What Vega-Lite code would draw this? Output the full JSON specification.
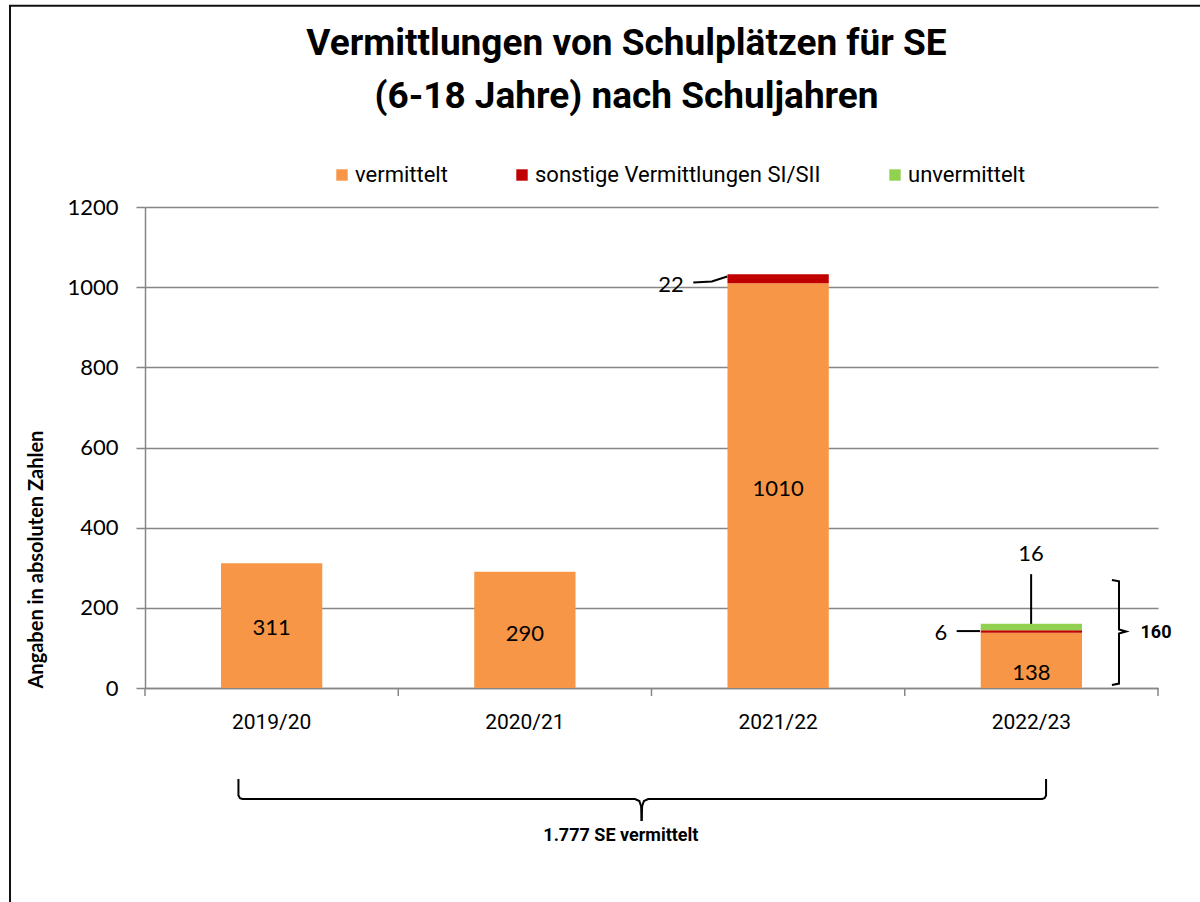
{
  "$schema": "https://vega.github.io/schema/vega-lite/v6.json",
  "width": 1013,
  "height": 481,
  "autosize": {"type": "none"},
  "padding": {"left": 145, "top": 207, "right": 42, "bottom": 214},
  "background": "white",
  "title": {
    "text": ["Vermittlungen von Schulplätzen für SE", "(6-18 Jahre) nach Schuljahren"],
    "font": "Roboto",
    "fontWeight": "bold",
    "fontSize": 37,
    "lineHeight": 53,
    "baseline": "bottom",
    "anchor": "middle",
    "frame": "group",
    "dx": -25,
    "offset": -148,
    "color": "black"
  },
  "datasets": {
    "bars": [
      {"year": "2019/20", "cat": "vermittelt", "value": 311, "rank": 1},
      {"year": "2020/21", "cat": "vermittelt", "value": 290, "rank": 1},
      {"year": "2021/22", "cat": "vermittelt", "value": 1010, "rank": 1},
      {"year": "2021/22", "cat": "sonstige Vermittlungen SI/SII", "value": 22, "rank": 2},
      {"year": "2022/23", "cat": "vermittelt", "value": 138, "rank": 1},
      {"year": "2022/23", "cat": "sonstige Vermittlungen SI/SII", "value": 6, "rank": 2},
      {"year": "2022/23", "cat": "unvermittelt", "value": 16, "rank": 3}
    ],
    "frame": [{"u1": -0.533, "u2": 4.6, "v1": 1702, "v2": -700}],
    "xticks": [{"u": 0}, {"u": 1}, {"u": 2}, {"u": 3}, {"u": 4}],
    "lines": [
      {"id": "b1", "seq": 1, "u": 0.369, "v": -227},
      {"id": "b1", "seq": 2, "u": 0.369, "v": -268},
      {"id": "b1", "seq": 3, "u": 0.375, "v": -275},
      {"id": "b1", "seq": 4, "u": 0.385, "v": -277},
      {"id": "b1", "seq": 5, "u": 1.935, "v": -277},
      {"id": "b1", "seq": 6, "u": 1.952, "v": -282},
      {"id": "b1", "seq": 7, "u": 1.959, "v": -295},
      {"id": "b1", "seq": 8, "u": 1.961, "v": -332},
      {"id": "b2", "seq": 1, "u": 3.558, "v": -227},
      {"id": "b2", "seq": 2, "u": 3.558, "v": -268},
      {"id": "b2", "seq": 3, "u": 3.552, "v": -275},
      {"id": "b2", "seq": 4, "u": 3.542, "v": -277},
      {"id": "b2", "seq": 5, "u": 1.987, "v": -277},
      {"id": "b2", "seq": 6, "u": 1.970, "v": -282},
      {"id": "b2", "seq": 7, "u": 1.963, "v": -295},
      {"id": "b2", "seq": 8, "u": 1.961, "v": -332},
      {"id": "r", "seq": 1, "u": 3.818, "v": 269.5},
      {"id": "r", "seq": 2, "u": 3.846, "v": 266},
      {"id": "r", "seq": 3, "u": 3.846, "v": 146},
      {"id": "r", "seq": 4, "u": 3.874, "v": 141},
      {"id": "r", "seq": 5, "u": 3.846, "v": 136},
      {"id": "r", "seq": 6, "u": 3.846, "v": 11},
      {"id": "r", "seq": 7, "u": 3.818, "v": 7.5},
      {"id": "l16", "seq": 1, "u": 3.499, "v": 284},
      {"id": "l16", "seq": 2, "u": 3.499, "v": 160},
      {"id": "l6", "seq": 1, "u": 3.205, "v": 142},
      {"id": "l6", "seq": 2, "u": 3.297, "v": 142},
      {"id": "l22", "seq": 1, "u": 2.165, "v": 1011.7},
      {"id": "l22", "seq": 2, "u": 2.238, "v": 1014.2},
      {"id": "l22", "seq": 3, "u": 2.299, "v": 1026.6}
    ],
    "numLabels": [
      {"u": 0.5, "v": 150, "label": "311"},
      {"u": 1.5, "v": 135, "label": "290"},
      {"u": 2.5, "v": 497, "label": "1010"},
      {"u": 3.5, "v": 37, "label": "138"},
      {"u": 3.499, "v": 335, "label": "16"},
      {"u": 3.143, "v": 138, "label": "6"},
      {"u": 2.077, "v": 1005, "label": "22"}
    ],
    "notes": [
      {"u": 1.879, "v": -369, "label": "1.777 SE vermittelt"},
      {"u": 3.992, "v": 137, "label": "160"}
    ]
  },
  "layer": [
    {
      "data": {"name": "bars"},
      "mark": {"type": "bar"},
      "encoding": {
        "x": {
          "field": "year", "type": "nominal", "sort": null,
          "scale": {"paddingInner": 0.6, "paddingOuter": 0.3},
          "axis": {
            "title": null, "labelFont": "Roboto", "labelFontSize": 21,
            "labelColor": "black", "labelAngle": 0, "labelPadding": 23, "ticks": false,
            "domainColor": "#868686", "domainWidth": 1.5
          }
        },
        "y": {
          "field": "value", "type": "quantitative", "stack": "zero",
          "scale": {"domain": [0, 1200], "nice": false},
          "axis": {
            "values": [0, 200, 400, 600, 800, 1000, 1200], "format": "d",
            "title": "Angaben in absoluten Zahlen", "titleFont": "Lato", "titleFontSize": 20,
            "titleFontWeight": "bold", "titleColor": "black", "titleAnchor": "start", "titlePadding": 20,
            "labelFont": "Lato", "labelFontSize": 22, "labelColor": "black", "labelPadding": 18,
            "tickSize": 9, "tickColor": "#868686", "tickWidth": 1.5,
            "domainColor": "#868686", "domainWidth": 1.5, "gridColor": "#868686", "gridWidth": 1.5
          }
        },
        "color": {
          "field": "cat", "type": "nominal",
          "scale": {"domain": ["vermittelt", "sonstige Vermittlungen SI/SII", "unvermittelt"], "range": ["#F79646", "#C00000", "#92D050"]},
          "legend": {
            "title": null, "orient": "none", "legendX": 186, "legendY": -43, "direction": "horizontal",
            "symbolType": "square", "symbolSize": 130, "symbolStrokeWidth": 0,
            "labelFont": "Roboto", "labelFontSize": 22, "labelColor": "black", "labelLimit": 0,
            "columnPadding": 63, "labelOffset": 2
          }
        },
        "order": {"field": "rank", "type": "quantitative"}
      }
    },
    {
      "layer": [
        {
          "data": {"name": "frame"},
          "mark": {"type": "rect", "fill": null, "stroke": "#111111", "strokeWidth": 2},
          "encoding": {
            "x": {"field": "u1", "type": "quantitative", "scale": {"domain": [0, 4], "nice": false, "zero": false}, "axis": null},
            "x2": {"field": "u2"},
            "y": {"field": "v1", "type": "quantitative"},
            "y2": {"field": "v2"}
          }
        },
        {
          "data": {"name": "xticks"},
          "mark": {"type": "rule", "color": "#868686", "strokeWidth": 1.5},
          "encoding": {
            "x": {"field": "u", "type": "quantitative", "scale": {"domain": [0, 4], "nice": false, "zero": false}, "axis": null},
            "y": {"datum": 0},
            "y2": {"datum": -20}
          }
        },
        {
          "data": {"name": "lines"},
          "mark": {"type": "line", "color": "black", "strokeWidth": 2},
          "encoding": {
            "x": {"field": "u", "type": "quantitative", "scale": {"domain": [0, 4], "nice": false, "zero": false}, "axis": null},
            "y": {"field": "v", "type": "quantitative"},
            "detail": {"field": "id"},
            "order": {"field": "seq", "type": "quantitative"}
          }
        },
        {
          "data": {"name": "numLabels"},
          "mark": {"type": "text", "font": "Lato", "fontSize": 22, "color": "black", "baseline": "middle", "align": "center"},
          "encoding": {
            "x": {"field": "u", "type": "quantitative", "scale": {"domain": [0, 4], "nice": false, "zero": false}, "axis": null},
            "y": {"field": "v", "type": "quantitative"},
            "text": {"field": "label"}
          }
        },
        {
          "data": {"name": "notes"},
          "mark": {"type": "text", "font": "Roboto", "fontWeight": "bold", "fontSize": 18, "color": "black", "baseline": "middle", "align": "center"},
          "encoding": {
            "x": {"field": "u", "type": "quantitative", "scale": {"domain": [0, 4], "nice": false, "zero": false}, "axis": null},
            "y": {"field": "v", "type": "quantitative"},
            "text": {"field": "label"}
          }
        }
      ]
    }
  ],
  "resolve": {"scale": {"x": "independent"}},
  "config": {"view": {"stroke": null}}
}
